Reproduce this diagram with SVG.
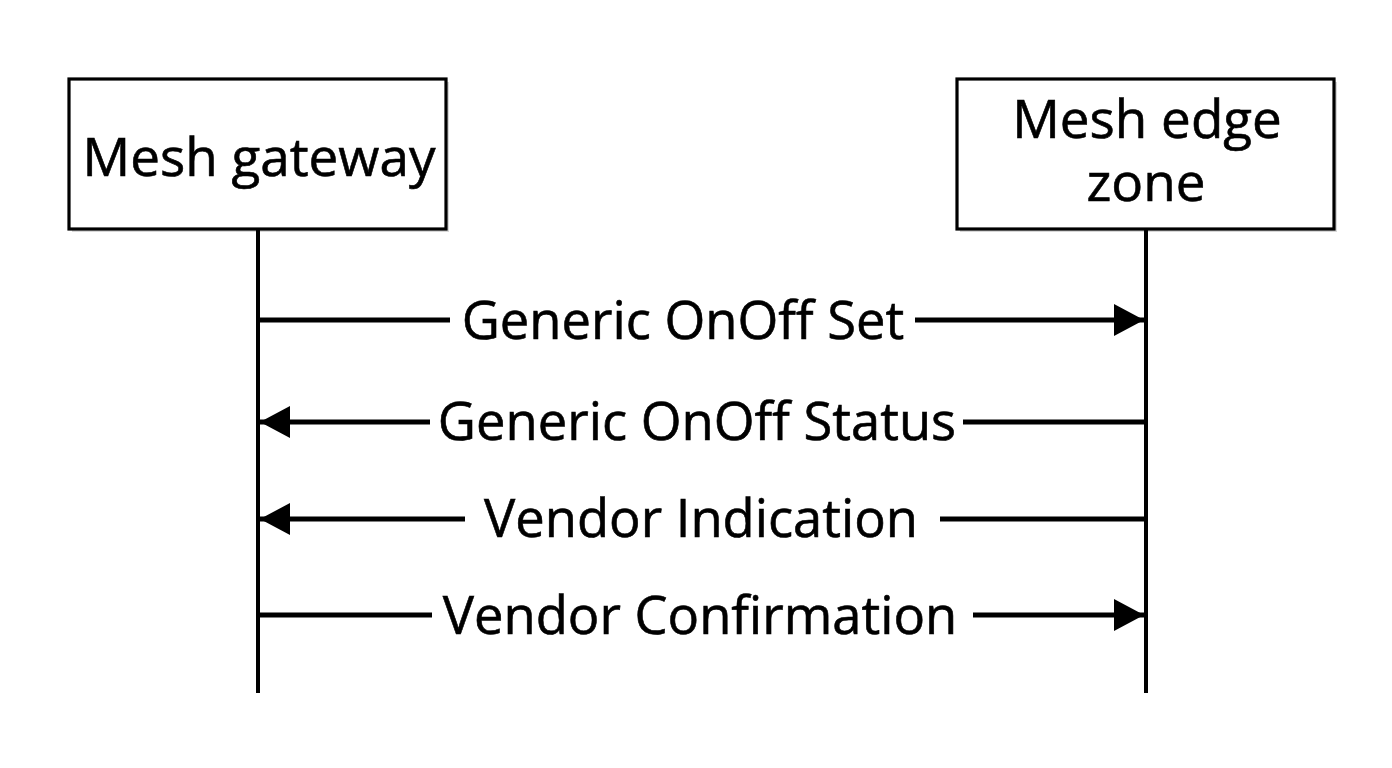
<svg xmlns="http://www.w3.org/2000/svg" width="1392" height="768" viewBox="0 0 1392 768">
<defs>
<style>
.box{fill:#fff;stroke:#000;stroke-width:3.2}
.shadow{fill:#d8d8d8}
.life{stroke:#000;stroke-width:4;fill:none}
.msg{stroke:#000;stroke-width:5;fill:none}
.t{font-family:"Open Sans","Noto Sans","DejaVu Sans",sans-serif;font-size:52.5px;fill:#000;stroke:#000;stroke-width:0.6;text-anchor:middle}
.tb{font-size:53px}
</style>
<marker id="ah" viewBox="0 0 30 32" refX="30" refY="16" markerWidth="30" markerHeight="32" markerUnits="userSpaceOnUse" orient="auto">
<path d="M0,0 L30,16 L0,32 Z" fill="#000"/>
</marker>
</defs>
<rect width="1392" height="768" fill="#fff"/>
<g id="node-gateway">
<rect class="shadow" x="72" y="82" width="377" height="150"/>
<rect class="box" x="69" y="79" width="377" height="150"/>
<text class="t tb" x="259" y="176">Mesh gateway</text>
</g>
<g id="node-edge">
<rect class="shadow" x="960" y="82" width="377" height="150"/>
<rect class="box" x="957" y="79" width="377" height="150"/>
<text class="t tb"><tspan x="1147" y="138">Mesh edge</tspan><tspan x="1146" y="201">zone</tspan></text>
</g>
<g id="connectors">
<line class="life" x1="258" y1="229" x2="258" y2="693"/>
<line class="life" x1="1146" y1="229" x2="1146" y2="693"/>
<line class="msg" x1="256" y1="320" x2="450" y2="320"/>
<line class="msg" x1="915" y1="320" x2="1144" y2="320" marker-end="url(#ah)"/>
<line class="msg" x1="430" y1="422" x2="260" y2="422" marker-end="url(#ah)"/>
<line class="msg" x1="963" y1="422" x2="1146" y2="422"/>
<line class="msg" x1="465" y1="519" x2="260" y2="519" marker-end="url(#ah)"/>
<line class="msg" x1="940" y1="519" x2="1146" y2="519"/>
<line class="msg" x1="256" y1="615" x2="432" y2="615"/>
<line class="msg" x1="973" y1="615" x2="1144" y2="615" marker-end="url(#ah)"/>
</g>
<g id="labels">
<text class="t" x="683" y="339">Generic OnOff Set</text>
<text class="t" x="697" y="440">Generic OnOff Status</text>
<text class="t" x="701" y="537">Vendor Indication</text>
<text class="t" x="700" y="634">Vendor Confirmation</text>
</g>
</svg>
